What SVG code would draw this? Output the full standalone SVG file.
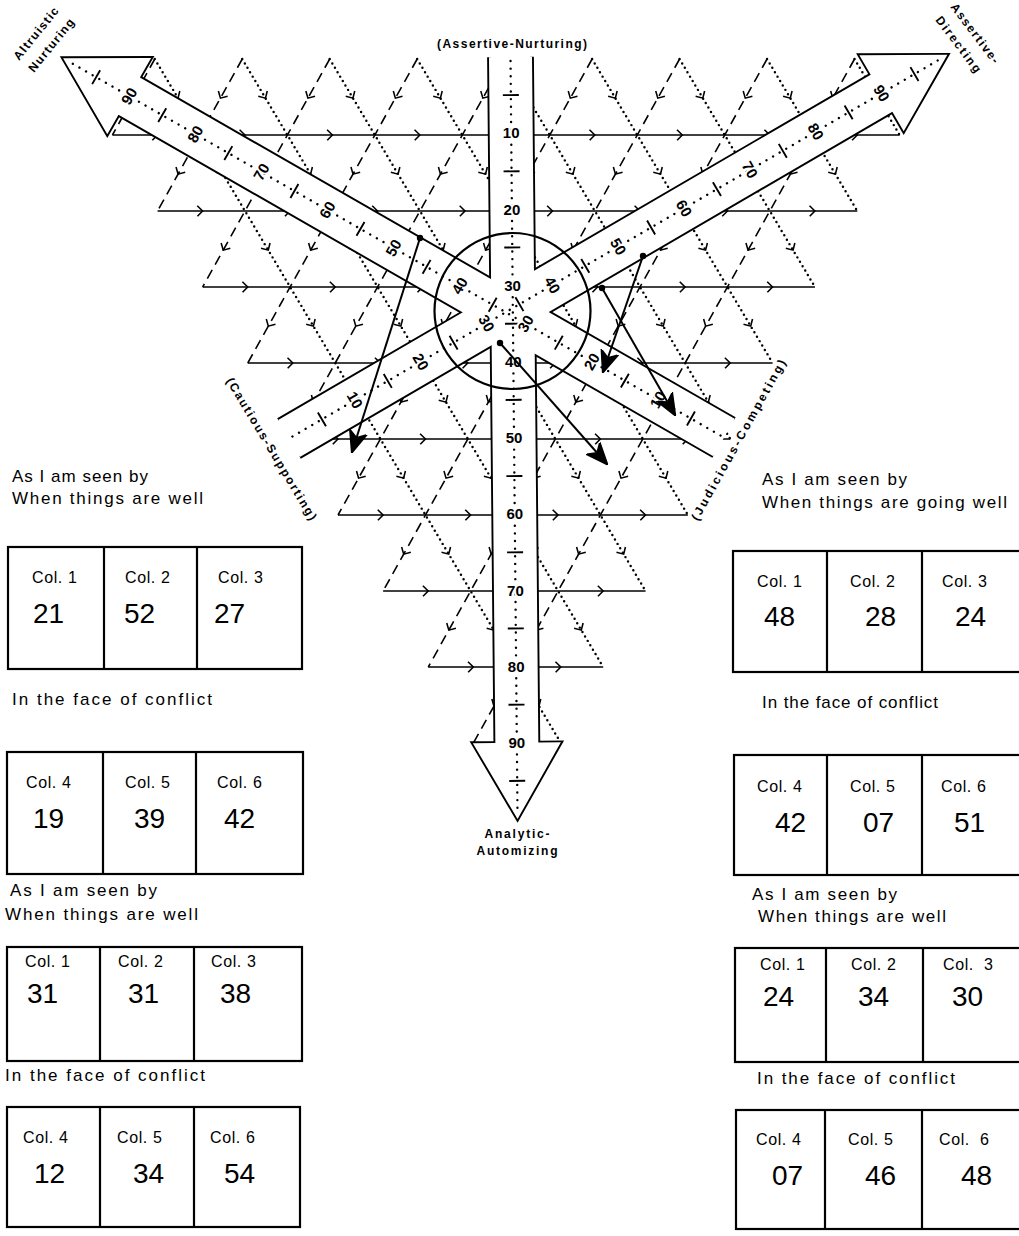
<svg xmlns="http://www.w3.org/2000/svg" width="1019" height="1236" viewBox="0 0 1019 1236">
<style>
text{font-family:'Liberation Sans',Arial,sans-serif;fill:#000}
.g{fill:none;stroke:#000;stroke-width:0.18;marker-mid:url(#gt)}
.ds{stroke-dasharray:1.15 0.7}
.dt{stroke-dasharray:0 0.58;stroke-linecap:round;stroke-width:0.28}
.ao{fill:none;stroke:#000;stroke-width:3.8;stroke-linejoin:miter}
.af{fill:#fff;stroke:none}
.cl{fill:none;stroke:#000;stroke-width:2.4;stroke-linecap:round;stroke-dasharray:0 7.62}
.tk{fill:none;stroke:#000;stroke-width:1.9}
.sl{font-size:15px;font-weight:bold;text-anchor:middle;stroke:#fff;stroke-width:4;paint-order:stroke;stroke-linejoin:round}
.lb{font-size:12px;font-weight:bold}
.box{fill:none;stroke:#000;stroke-width:2.2}
.col{font-size:16px;letter-spacing:0.6px}
.num{font-size:28px}
.hd{font-size:17px}
.cn{fill:none;stroke:#000;stroke-width:2;marker-start:url(#dot);marker-end:url(#ah)}
</style>
<defs>
<marker id="gt" markerUnits="userSpaceOnUse" viewBox="-1 -1 2 2" refX="0" refY="0" markerWidth="2" markerHeight="2" orient="auto" overflow="visible"><path d="M-0.45,-0.6L0.15,0L-0.45,0.6" fill="none" stroke="#000" stroke-width="0.18" stroke-dasharray="none"/></marker>
<marker id="dot" markerUnits="userSpaceOnUse" viewBox="-4 -4 8 8" refX="0" refY="0" markerWidth="8" markerHeight="8"><circle r="3.2" fill="#000"/></marker>
<marker id="ah" markerUnits="userSpaceOnUse" viewBox="0 0 22 20" refX="21" refY="10" markerWidth="22" markerHeight="20" orient="auto"><path d="M0,1L22,10L0,19L6,10Z" fill="#000" stroke="#000" stroke-width="1.5" stroke-linejoin="round"/></marker>
<path id="ash" d="M0,-21.5H685.8V-44L762,0L685.8,44V21.5H0"/>
<g id="scale"><path class="cl" d="M4,0H758"/><path class="tk" d="M38.1,-8V8M114.3,-8V8M190.5,-8V8M266.7,-8V8M342.9,-8V8M419.1,-8V8M495.3,-8V8M571.5,-8V8M647.7,-8V8M723.9,-8V8"/></g>
</defs>
<rect width="1019" height="1236" fill="#fff"/>

<g id="grid" transform="matrix(8.747,0,0.16,8.776,67.3,59)">
<g id="grid-horizontal">
<polyline class="g" points="5,8.66 10,8.66 20,8.66 30,8.66 40,8.66 50,8.66 60,8.66 70,8.66 80,8.66 90,8.66 95,8.66"/>
<polyline class="g" points="10,17.32 15,17.32 25,17.32 35,17.32 45,17.32 55,17.32 65,17.32 75,17.32 85,17.32 90,17.32"/>
<polyline class="g" points="15,25.98 20,25.98 30,25.98 40,25.98 50,25.98 60,25.98 70,25.98 80,25.98 85,25.98"/>
<polyline class="g" points="20,34.64 25,34.64 35,34.64 45,34.64 55,34.64 65,34.64 75,34.64 80,34.64"/>
<polyline class="g" points="25,43.3 30,43.3 40,43.3 50,43.3 60,43.3 70,43.3 75,43.3"/>
<polyline class="g" points="30,51.96 35,51.96 45,51.96 55,51.96 65,51.96 70,51.96"/>
<polyline class="g" points="35,60.62 40,60.62 50,60.62 60,60.62 65,60.62"/>
<polyline class="g" points="40,69.28 45,69.28 55,69.28 60,69.28"/>
<polyline class="g" points="45,77.94 50,77.94 55,77.94"/>
</g>
<g id="grid-dotted">
<polyline class="g dt" points="10,0 12.5,4.33 17.5,12.99 22.5,21.65 27.5,30.31 32.5,38.97 37.5,47.63 42.5,56.29 47.5,64.95 52.5,73.61 55,77.94"/>
<polyline class="g dt" points="20,0 22.5,4.33 27.5,12.99 32.5,21.65 37.5,30.31 42.5,38.97 47.5,47.63 52.5,56.29 57.5,64.95 60,69.28"/>
<polyline class="g dt" points="30,0 32.5,4.33 37.5,12.99 42.5,21.65 47.5,30.31 52.5,38.97 57.5,47.63 62.5,56.29 65,60.62"/>
<polyline class="g dt" points="40,0 42.5,4.33 47.5,12.99 52.5,21.65 57.5,30.31 62.5,38.97 67.5,47.63 70,51.96"/>
<polyline class="g dt" points="50,0 52.5,4.33 57.5,12.99 62.5,21.65 67.5,30.31 72.5,38.97 75,43.3"/>
<polyline class="g dt" points="60,0 62.5,4.33 67.5,12.99 72.5,21.65 77.5,30.31 80,34.64"/>
<polyline class="g dt" points="70,0 72.5,4.33 77.5,12.99 82.5,21.65 85,25.98"/>
<polyline class="g dt" points="80,0 82.5,4.33 87.5,12.99 90,17.32"/>
<polyline class="g dt" points="90,0 92.5,4.33 95,8.66"/>
</g>
<g id="grid-dashed">
<polyline class="g ds" points="90,0 87.5,4.33 82.5,12.99 77.5,21.65 72.5,30.31 67.5,38.97 62.5,47.63 57.5,56.29 52.5,64.95 47.5,73.61 45,77.94"/>
<polyline class="g ds" points="80,0 77.5,4.33 72.5,12.99 67.5,21.65 62.5,30.31 57.5,38.97 52.5,47.63 47.5,56.29 42.5,64.95 40,69.28"/>
<polyline class="g ds" points="70,0 67.5,4.33 62.5,12.99 57.5,21.65 52.5,30.31 47.5,38.97 42.5,47.63 37.5,56.29 35,60.62"/>
<polyline class="g ds" points="60,0 57.5,4.33 52.5,12.99 47.5,21.65 42.5,30.31 37.5,38.97 32.5,47.63 30,51.96"/>
<polyline class="g ds" points="50,0 47.5,4.33 42.5,12.99 37.5,21.65 32.5,30.31 27.5,38.97 25,43.3"/>
<polyline class="g ds" points="40,0 37.5,4.33 32.5,12.99 27.5,21.65 22.5,30.31 20,34.64"/>
<polyline class="g ds" points="30,0 27.5,4.33 22.5,12.99 17.5,21.65 15,25.98"/>
<polyline class="g ds" points="20,0 17.5,4.33 12.5,12.99 10,17.32"/>
<polyline class="g ds" points="10,0 7.5,4.33 5,8.66"/>
</g>
</g>

<g id="axes">
<g id="axis-shapes">
<use href="#ash" class="ao" transform="translate(510.5,57) rotate(89.47)"/>
<use href="#ash" class="ao" transform="translate(724,437.5) rotate(-150.15)"/>
<use href="#ash" class="ao" transform="translate(289,438.5) rotate(-30.23)"/>
<use href="#ash" class="af" transform="translate(510.5,57) rotate(89.47)"/>
<use href="#ash" class="af" transform="translate(724,437.5) rotate(-150.15)"/>
<use href="#ash" class="af" transform="translate(289,438.5) rotate(-30.23)"/>
</g>
<g id="axis-analytic" transform="translate(510.5,57) rotate(89.47)">
<use href="#scale"/>
<text class="sl" transform="translate(76.2,0) rotate(-89.47)" dy="5.2">10</text>
<text class="sl" transform="translate(152.4,0) rotate(-89.47)" dy="5.2">20</text>
<text class="sl" transform="translate(228.6,0) rotate(-89.47)" dy="5.2">30</text>
<text class="sl" transform="translate(304.8,0) rotate(-89.47)" dy="5.2">40</text>
<text class="sl" transform="translate(381,0) rotate(-89.47)" dy="5.2">50</text>
<text class="sl" transform="translate(457.2,0) rotate(-89.47)" dy="5.2">60</text>
<text class="sl" transform="translate(533.4,0) rotate(-89.47)" dy="5.2">70</text>
<text class="sl" transform="translate(609.6,0) rotate(-89.47)" dy="5.2">80</text>
<text class="sl" transform="translate(685.8,0) rotate(-89.47)" dy="5.2">90</text>
</g>
<g id="axis-altruistic" transform="translate(724,437.5) rotate(-150.15)">
<use href="#scale"/>
<text class="sl" transform="translate(76.2,0) rotate(90)" dy="5.2">10</text>
<text class="sl" transform="translate(152.4,0) rotate(90)" dy="5.2">20</text>
<text class="sl" transform="translate(228.6,0) rotate(90)" dy="5.2">30</text>
<text class="sl" transform="translate(304.8,0) rotate(90)" dy="5.2">40</text>
<text class="sl" transform="translate(381,0) rotate(90)" dy="5.2">50</text>
<text class="sl" transform="translate(457.2,0) rotate(90)" dy="5.2">60</text>
<text class="sl" transform="translate(533.4,0) rotate(90)" dy="5.2">70</text>
<text class="sl" transform="translate(609.6,0) rotate(90)" dy="5.2">80</text>
<text class="sl" transform="translate(685.8,0) rotate(90)" dy="5.2">90</text>
</g>
<g id="axis-assertive" transform="translate(289,438.5) rotate(-30.23)">
<use href="#scale"/>
<text class="sl" transform="translate(76.2,0) rotate(90)" dy="5.2">10</text>
<text class="sl" transform="translate(152.4,0) rotate(90)" dy="5.2">20</text>
<text class="sl" transform="translate(228.6,0) rotate(90)" dy="5.2">30</text>
<text class="sl" transform="translate(304.8,0) rotate(90)" dy="5.2">40</text>
<text class="sl" transform="translate(381,0) rotate(90)" dy="5.2">50</text>
<text class="sl" transform="translate(457.2,0) rotate(90)" dy="5.2">60</text>
<text class="sl" transform="translate(533.4,0) rotate(90)" dy="5.2">70</text>
<text class="sl" transform="translate(609.6,0) rotate(90)" dy="5.2">80</text>
<text class="sl" transform="translate(685.8,0) rotate(90)" dy="5.2">90</text>
</g>
<circle id="center-circle" cx="512.5" cy="311" r="78" fill="none" stroke="#000" stroke-width="2.2"/>
</g>

<g id="axis-labels">
<text class="lb" x="512" y="48" text-anchor="middle" textLength="150">(Assertive-Nurturing)</text>
<text class="lb" x="517" y="838" text-anchor="middle" textLength="65">Analytic-</text>
<text class="lb" x="517" y="855" text-anchor="middle" textLength="81">Automizing</text>
<text class="lb" font-size="13" transform="translate(19,61) rotate(-51)" textLength="64">Altruistic</text>
<text class="lb" font-size="13" transform="translate(34,73) rotate(-51)" textLength="65">Nurturing</text>
<text class="lb" font-size="13" transform="translate(950,7) rotate(53)" textLength="72">Assertive-</text>
<text class="lb" font-size="13" transform="translate(935,20) rotate(53)" textLength="67">Directing</text>
<text class="lb" font-size="13" font-weight="normal" transform="translate(268,451) rotate(59)" text-anchor="middle" textLength="164">(Cautious-Supporting)</text>
<text class="lb" font-size="13" font-weight="normal" transform="translate(742,442) rotate(-61)" text-anchor="middle" textLength="182">(Judicious-Competing)</text>
</g>

<g id="connectors">
<path class="cn" d="M420,238L352,452"/>
<path class="cn" d="M500,343L607,464"/>
<path class="cn" d="M643,256L603,372"/>
<path class="cn" d="M602,288L675,415"/>
</g>

<g id="left-panel">
<g id="L1-header"><text class="hd" x="12" y="482" textLength="136">As I am seen by</text><text class="hd" x="12" y="504" textLength="191">When things are well</text></g>
<g id="box-L1"><rect class="box" x="8" y="547" width="294" height="122"/><path class="box" d="M104,547V669M197,547V669"/>
<text class="col" x="32" y="583">Col. 1</text><text class="col" x="125" y="583">Col. 2</text><text class="col" x="218" y="583">Col. 3</text>
<text class="num" x="33" y="623">21</text><text class="num" x="124" y="623">52</text><text class="num" x="214" y="623">27</text></g>
<g id="L2-header"><text class="hd" x="12" y="705" textLength="200">In the face of conflict</text></g>
<g id="box-L2"><rect class="box" x="7" y="752" width="296" height="122"/><path class="box" d="M103,752V874M196,752V874"/>
<text class="col" x="26" y="788">Col. 4</text><text class="col" x="125" y="788">Col. 5</text><text class="col" x="217" y="788">Col. 6</text>
<text class="num" x="33" y="828">19</text><text class="num" x="134" y="828">39</text><text class="num" x="224" y="828">42</text></g>
<g id="L3-header"><text class="hd" x="10" y="896" textLength="147">As I am seen by</text><text class="hd" x="5" y="920" textLength="193">When things are well</text></g>
<g id="box-L3"><rect class="box" x="7" y="947" width="295" height="114"/><path class="box" d="M100,947V1061M194,947V1061"/>
<text class="col" x="25" y="967">Col. 1</text><text class="col" x="118" y="967">Col. 2</text><text class="col" x="211" y="967">Col. 3</text>
<text class="num" x="27" y="1003">31</text><text class="num" x="128" y="1003">31</text><text class="num" x="220" y="1003">38</text></g>
<g id="L4-header"><text class="hd" x="5" y="1081" textLength="200">In the face of conflict</text></g>
<g id="box-L4"><rect class="box" x="7" y="1107" width="293" height="120"/><path class="box" d="M100,1107V1227M194,1107V1227"/>
<text class="col" x="23" y="1143">Col. 4</text><text class="col" x="117" y="1143">Col. 5</text><text class="col" x="210" y="1143">Col. 6</text>
<text class="num" x="34" y="1183">12</text><text class="num" x="133" y="1183">34</text><text class="num" x="224" y="1183">54</text></g>
</g>

<g id="right-panel">
<g id="R1-header"><text class="hd" x="762" y="485" textLength="145">As I am seen by</text><text class="hd" x="762" y="508" textLength="245">When things are going well</text></g>
<g id="box-R1"><rect class="box" x="733" y="551" width="300" height="121"/><path class="box" d="M827,551V672M922,551V672"/>
<text class="col" x="757" y="587">Col. 1</text><text class="col" x="850" y="587">Col. 2</text><text class="col" x="942" y="587">Col. 3</text>
<text class="num" x="764" y="626">48</text><text class="num" x="865" y="626">28</text><text class="num" x="955" y="626">24</text></g>
<g id="R2-header"><text class="hd" font-size="15" x="762" y="708" textLength="176">In the face of conflict</text></g>
<g id="box-R2"><rect class="box" x="734" y="755" width="300" height="120"/><path class="box" d="M827,755V875M922,755V875"/>
<text class="col" x="757" y="792">Col. 4</text><text class="col" x="850" y="792">Col. 5</text><text class="col" x="941" y="792">Col. 6</text>
<text class="num" x="775" y="832">42</text><text class="num" x="863" y="832">07</text><text class="num" x="954" y="832">51</text></g>
<g id="R3-header"><text class="hd" x="752" y="900" textLength="145">As I am seen by</text><text class="hd" x="758" y="922" textLength="188">When things are well</text></g>
<g id="box-R3"><rect class="box" x="735" y="948" width="300" height="114"/><path class="box" d="M826,948V1062M923,948V1062"/>
<text class="col" x="760" y="970">Col. 1</text><text class="col" x="851" y="970">Col. 2</text><text class="col" x="943" y="970" xml:space="preserve">Col.  3</text>
<text class="num" x="763" y="1006">24</text><text class="num" x="858" y="1006">34</text><text class="num" x="952" y="1006">30</text></g>
<g id="R4-header"><text class="hd" x="757" y="1084" textLength="198">In the face of conflict</text></g>
<g id="box-R4"><rect class="box" x="736" y="1110" width="300" height="119"/><path class="box" d="M825,1110V1229M922,1110V1229"/>
<text class="col" x="756" y="1145">Col. 4</text><text class="col" x="848" y="1145">Col. 5</text><text class="col" x="939" y="1145" xml:space="preserve">Col.  6</text>
<text class="num" x="772" y="1185">07</text><text class="num" x="865" y="1185">46</text><text class="num" x="961" y="1185">48</text></g>
</g>
</svg>
